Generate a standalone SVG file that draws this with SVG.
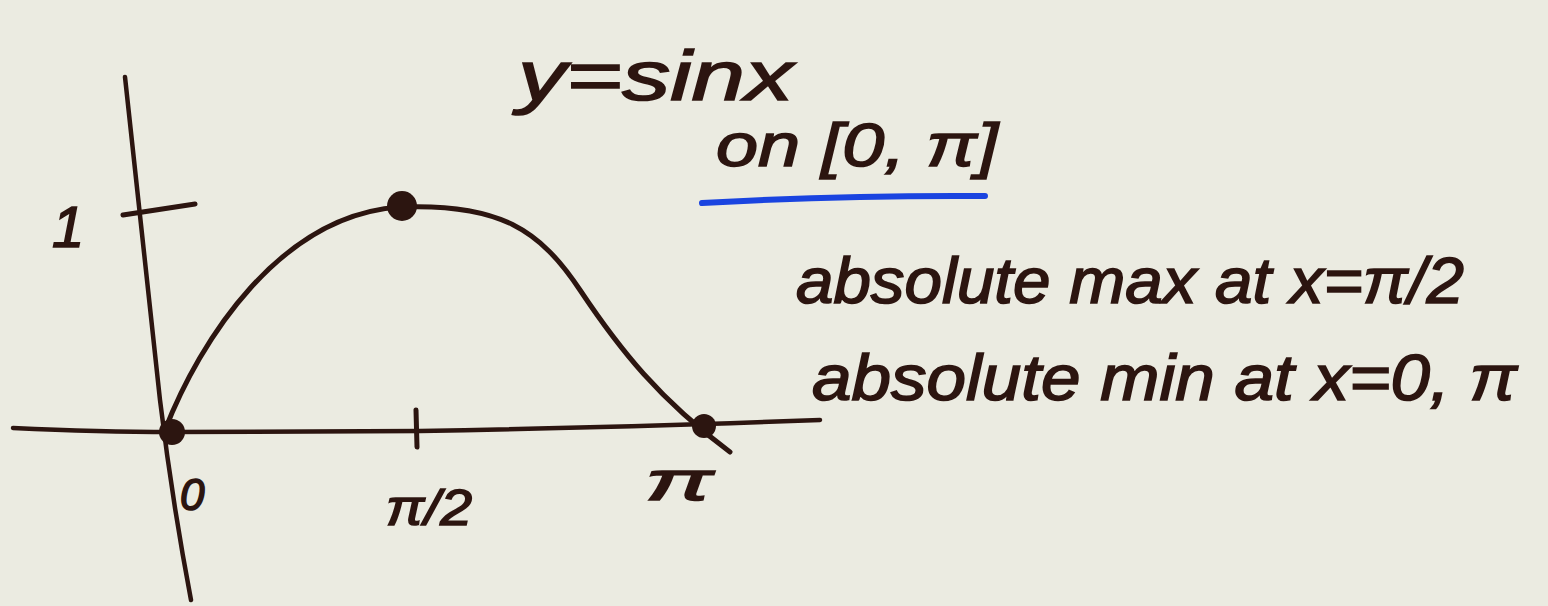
<svg xmlns="http://www.w3.org/2000/svg" width="1548" height="606" viewBox="0 0 1548 606">
  <style>
    .ink { stroke: #2c1510; fill: none; stroke-linecap: round; stroke-linejoin: round; }
    .dot { fill: #2c1510; }
    .hand { font-family: "Liberation Sans", "DejaVu Sans", sans-serif; font-style: italic; fill: #2c1510; stroke: #2c1510; stroke-width: 1.6; }
  </style>
  <rect width="1548" height="606" fill="#ebebe1"/>
  <!-- axes -->
  <g id="axes">
    <path class="ink" stroke-width="4.5" d="M125,77 L160,400 Q172,500 191,600"/>
    <path class="ink" stroke-width="4.5" d="M13,428 Q100,432 172,432 L420,431 Q600,428 820,420"/>
    <path class="ink" stroke-width="5" d="M123,215 L195,204"/>
    <path class="ink" stroke-width="5" d="M416,410 L417,447"/>
  </g>
  <!-- curve -->
  <g id="curve">
    <path class="ink" stroke-width="5" d="M165,430 C200,340 280,215 400,207 C500,203 540,230 580,290 C620,350 660,400 730,452"/>
    <circle class="dot" cx="172" cy="432" r="13"/>
    <circle class="dot" cx="402" cy="206" r="15"/>
    <circle class="dot" cx="704" cy="426" r="12"/>
  </g>
  <!-- axis labels -->
  <g id="labels">
    <text class="hand" x="52" y="247" font-size="58">1</text>
    <text class="hand" x="180" y="510" font-size="44">0</text>
    <text class="hand" x="386" y="525" font-size="50" textLength="86" lengthAdjust="spacingAndGlyphs">π/2</text>
    <text class="hand" x="645" y="500" font-size="56" textLength="68" lengthAdjust="spacingAndGlyphs">π</text>
  </g>
  <!-- title -->
  <g id="title">
    <text class="hand" x="518" y="100" font-size="70" textLength="275" lengthAdjust="spacingAndGlyphs">y=sinx</text>
    <text class="hand" x="716" y="166" font-size="62" textLength="282" lengthAdjust="spacingAndGlyphs">on [0, π]</text>
    <path d="M702,203 Q850,195 985,196" stroke="#1a44e0" stroke-width="6" fill="none" stroke-linecap="round"/>
  </g>
  <!-- notes -->
  <g id="notes">
    <text class="hand" x="796" y="303" font-size="64" textLength="668" lengthAdjust="spacingAndGlyphs">absolute max at x=π/2</text>
    <text class="hand" x="812" y="400" font-size="64" textLength="705" lengthAdjust="spacingAndGlyphs">absolute min at x=0, π</text>
  </g>
</svg>
